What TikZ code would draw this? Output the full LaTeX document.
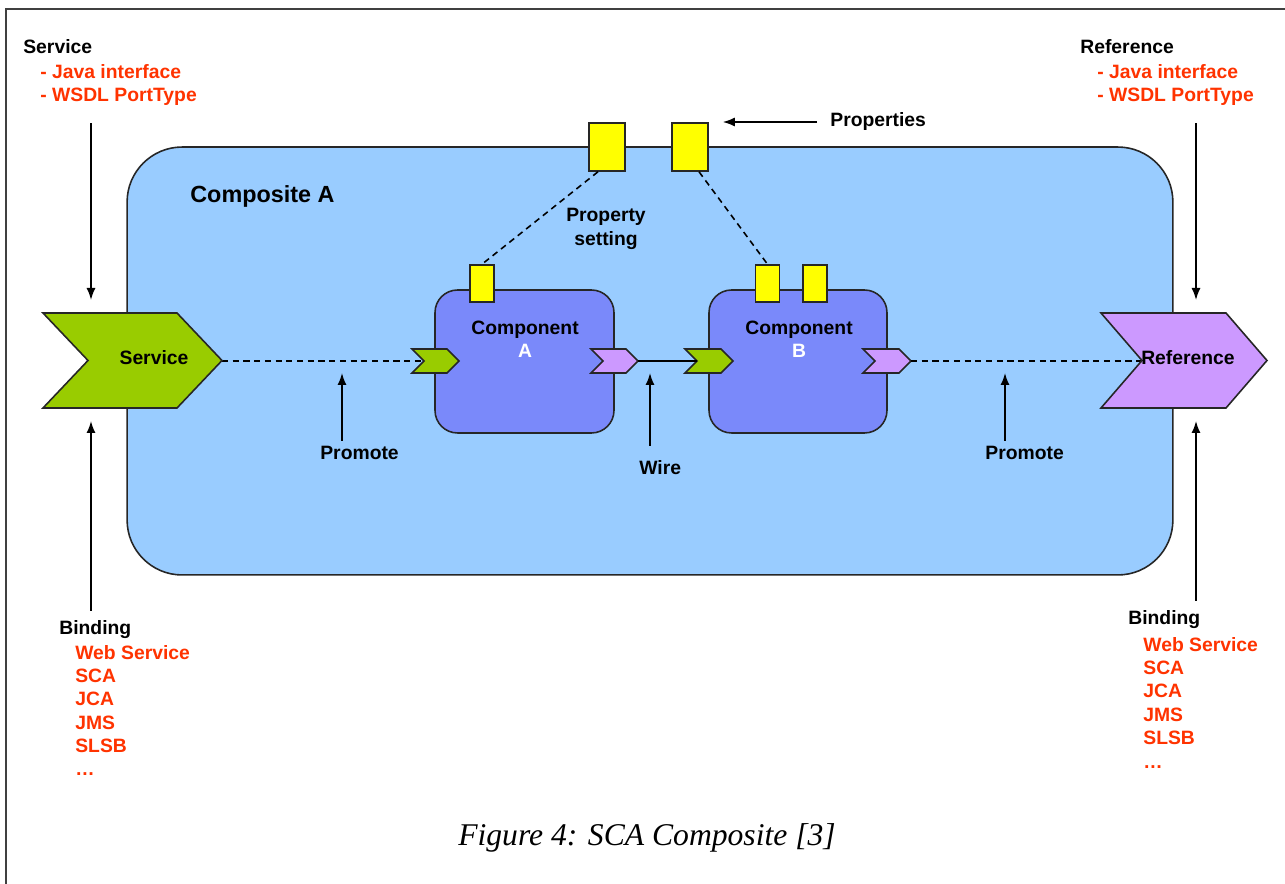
\documentclass[tikz,border=0pt]{standalone}
\usepackage{fontspec}
\setmainfont{Liberation Sans}
\newfontfamily\capfont{Liberation Serif}
\usetikzlibrary{arrows.meta}

\definecolor{compositeblue}{RGB}{153,204,255}
\definecolor{compblue}{RGB}{122,137,250}
\definecolor{svcgreen}{RGB}{153,204,0}
\definecolor{refpurple}{RGB}{204,153,255}
\definecolor{bindred}{RGB}{255,51,0}
\definecolor{propyellow}{RGB}{255,255,0}

% name, left x, tip x, mid y, half height, depth, fill
\newcommand{\chevron}[7]{
  \filldraw[fill=#7, draw=black!85, line width=0.9pt, line join=miter]
    (#2,#4-#5) -- (#3-#6,#4-#5) -- (#3,#4) -- (#3-#6,#4+#5)
    -- (#2,#4+#5) -- (#2+#6,#4) -- cycle;
  \coordinate (#1-tip) at (#3,#4);
  \coordinate (#1-notch) at (#2+#6,#4);
}

\begin{document}
\begin{tikzpicture}[
  x=0.02cm,
  y=-0.02cm,
  every node/.style={
    font=\bfseries\fontsize{11}{13.3}\selectfont,
    inner sep=0pt
  },
  txt/.style={anchor=base west, align=left},
  redtxt/.style={txt, text=bindred},
  compbox/.style={
    draw=black!85,
    fill=compblue,
    line width=0.9pt,
    rounded corners=0.45cm,
    minimum width=3.58cm,
    minimum height=2.86cm
  },
  propbox/.style={
    draw=black!85,
    fill=propyellow,
    line width=0.9pt,
    minimum width=0.48cm,
    minimum height=0.74cm
  },
  bigprop/.style={
    propbox,
    minimum width=0.72cm,
    minimum height=0.96cm
  },
  link/.style={dash pattern=on 3.5pt off 2.6pt, line width=0.9pt},
  pointer/.style={-{Latex[length=0.24cm,width=0.18cm]}, line width=0.9pt}
]
\useasboundingbox (0,0) rectangle (1285,884);
\draw[black!75, line width=0.9pt] (6,884) -- (6,9) -- (1285,9);

\node[draw=black!85, fill=compositeblue, line width=0.9pt, rounded corners=1.1cm,
  minimum width=20.92cm, minimum height=8.56cm] (comp) at (650,361) {};
\node[txt, font=\bfseries\fontsize{13.3}{15}\selectfont] (comptitle) at (190,203) {Composite A};

\node[compbox] (ca) at (524.5,361.5) {};
\node[compbox, minimum width=3.56cm] (cb) at (798,361.5) {};
\node[align=center] (calbl) at (525,339) {Component\\{\color{white}A}};
\node[align=center] (cblbl) at (799,339) {Component\\{\color{white}B}};

\node[bigprop] (cp1) at (607,147) {};
\node[bigprop] (cp2) at (690,147) {};
\node[propbox] (pa) at (482,283.5) {};
\node[propbox] (pb1) at (767.5,283.5) {};
\node[propbox] (pb2) at (815,283.5) {};
\draw[link] (cp1.250) -- (pa.north);
\draw[link] (cp2.290) -- (pb1.north);
\node[align=center] (propset) at (606,229) {Property\\setting};
\node[txt] (props) at (830,127) {Properties};
\draw[pointer, shorten <=0.26cm, shorten >=0.28cm] (props.west) -- (props.west -| cp2.east);

\chevron{ain}{412}{459}{361}{12}{12}{svcgreen}
\chevron{aout}{591}{638}{361}{12}{12}{refpurple}
\chevron{bin}{685}{733}{361}{12}{12}{svcgreen}
\chevron{bout}{863}{911}{361}{12}{12}{refpurple}
\draw[link] (bout-tip) -- (1142,361) coordinate (refend);
\draw[line width=0.9pt] (aout-tip) -- (bin-notch);
\draw[link] (222,361) coordinate (svcend) -- (ain-notch);

\chevron{svc}{43}{222}{360.5}{47.5}{45}{svcgreen}
\chevron{ref}{1101}{1267}{360.5}{47.5}{41}{refpurple}
\node (svclbl) at (154,358) {Service};
\node (reflbl) at (1188,358) {Reference};

\node[txt] (prom1) at (320,460) {Promote};
\node[txt] (wire) at (639,475) {Wire};
\node[txt] (prom2) at (985,460) {Promote};
\coordinate (prom1end) at (342,373);
\coordinate (wireend) at (650,373);
\coordinate (prom2end) at (1005,373);
\draw[pointer, shorten <=0.11cm] (prom1.north -| prom1end) -- (prom1end);
\draw[pointer, shorten <=0.3cm] (wire.north -| wireend) -- (wireend);
\draw[pointer, shorten <=0.11cm] (prom2.north -| prom2end) -- (prom2end);

\node[txt] (svchead) at (23,54) {Service};
\node[redtxt] (svclist) at (40,102) {- Java interface\\- WSDL PortType};
\node[txt] (refhead) at (1080,54) {Reference};
\node[redtxt] (reflist) at (1097,102) {- Java interface\\- WSDL PortType};

\node[txt] (bind1) at (59,635) {Binding};
\node[redtxt] (bindlist1) at (75,776) {Web Service\\SCA\\JCA\\JMS\\SLSB\\\dots};
\node[txt] (bind2) at (1128,625) {Binding};
\node[redtxt] (bindlist2) at (1143,768) {Web Service\\SCA\\JCA\\JMS\\SLSB\\\dots};

\coordinate (svcin) at (91,300);
\coordinate (svcbind) at (91,421);
\coordinate (refin) at (1196,300);
\coordinate (refbind) at (1196,421);
\draw[pointer, shorten <=0.34cm] (svclist.south -| svcin) -- (svcin);
\draw[pointer, shorten <=0.2cm] (bind1.north -| svcbind) -- (svcbind);
\draw[pointer, shorten <=0.34cm] (reflist.south -| refin) -- (refin);
\draw[pointer, shorten <=0.2cm] (bind2.north -| refbind) -- (refbind);

\node[font=\capfont\itshape\fontsize{18}{21}\selectfont] (caption) at (647,838) {Figure 4: SCA Composite [3]};
\end{tikzpicture}
\end{document}
